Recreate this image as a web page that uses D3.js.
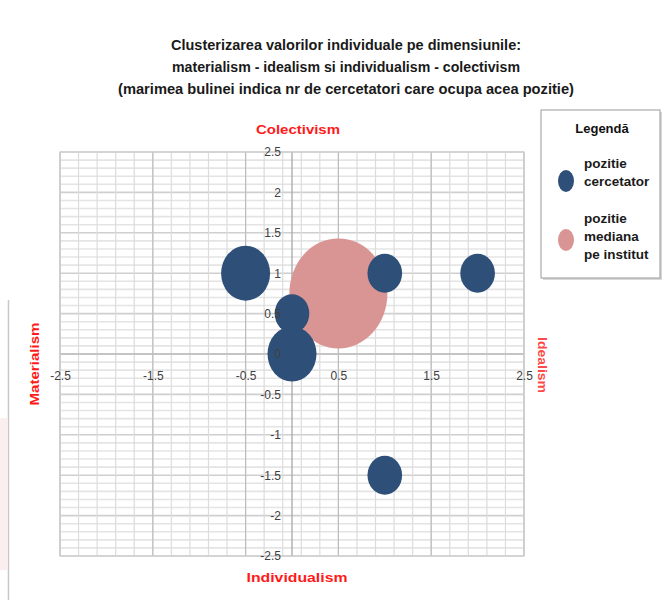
<!DOCTYPE html>
<html><head><meta charset="utf-8">
<script src="https://cdn.jsdelivr.net/npm/d3@7"></script>
<style>body{margin:0;background:#fff}svg{display:block}</style>
</head><body>
<svg id="c" width="670" height="600"></svg>
<script>
const titleLines = ["Clusterizarea valorilor individuale pe dimensiunile:",
  "materialism - idealism si individualism - colectivism",
  "(marimea bulinei indica nr de cercetatori care ocupa acea pozitie)"];
const xTicks = [-2.5, -1.5, -0.5, 0.5, 1.5, 2.5];
const yTicks = [2.5, 2, 1.5, 1, 0.5, 0, -0.5, -1, -1.5, -2, -2.5];
const researcherX = [-0.5, 1, 2, 1, 0, 0];
const researcherY = [1, 1, 1, -1.5, 0.5, 0];
const researcherN = [2, 1, 1, 1, 1, 2];
const medianX = [0.5];
const medianY = [0.75];
const medianN = [8];
const legendLabels = [["pozitie","cercetator"],["pozitie","mediana","pe institut"]];
const colors = {researcher:"#2e5078", median:"#d99594"};

const svg = d3.select("#c");
const x = d3.scaleLinear().domain([-2.5,2.5]).range([60,524]);
const y = d3.scaleLinear().domain([-2.5,2.5]).range([556,152]);
const rx = d3.scaleSqrt().domain([0,8]).range([0,49]);
const ry = d3.scaleSqrt().domain([0,8]).range([0,55]);

// page artifacts
svg.append("rect").attr("x",0).attr("y",418).attr("width",7).attr("height",152).attr("fill","#fbeeee");
svg.append("line").attr("x1",8.5).attr("x2",8.5).attr("y1",300).attr("y2",600).attr("stroke","#c8c8c8").attr("stroke-width",1.5);

// title
svg.append("g").selectAll("text").data(titleLines).join("text")
  .attr("x",346).attr("y",(d,i)=>50+i*22)
  .attr("text-anchor","middle")
  .attr("font-family","'Liberation Sans Narrow','Liberation Sans',Arial,sans-serif")
  .attr("font-weight","bold").attr("font-size",15.5).attr("fill","#1a1a1a")
  .attr("textLength",(d,i)=>[350,348,456][i]).attr("lengthAdjust","spacingAndGlyphs")
  .text(d=>d);

// grid
const g = svg.append("g");
const minorY = d3.range(-2.5,2.5001,0.1).map(v=>+v.toFixed(2));
const minorX = d3.range(-2.5,2.5001,0.2).map(v=>+v.toFixed(2));
g.selectAll(".hm").data(minorY).join("line")
  .attr("x1",x(-2.5)).attr("x2",x(2.5)).attr("y1",d=>y(d)).attr("y2",d=>y(d))
  .attr("stroke",d=>yTicks.some(t=>Math.abs(t-d)<1e-6)?"#cfcfcf":"#e4e4e4").attr("stroke-width",1.6);
g.selectAll(".vm").data(minorX).join("line")
  .attr("x1",d=>x(d)).attr("x2",d=>x(d)).attr("y1",y(2.5)).attr("y2",y(-2.5))
  .attr("stroke","#dcdcdc").attr("stroke-width",1.2);
g.selectAll(".vM").data(xTicks).join("line")
  .attr("x1",d=>x(d)).attr("x2",d=>x(d)).attr("y1",y(2.5)).attr("y2",y(-2.5))
  .attr("stroke","#bdbdbd").attr("stroke-width",1.2);
g.append("line").attr("x1",x(0)).attr("x2",x(0)).attr("y1",y(2.5)).attr("y2",y(-2.5))
  .attr("stroke","#a8a8a8").attr("stroke-width",1.3);
g.append("line").attr("x1",x(-2.5)).attr("x2",x(2.5)).attr("y1",y(0)).attr("y2",y(0))
  .attr("stroke","#bdbdbd").attr("stroke-width",1.3);
g.append("rect").attr("x",x(-2.5)).attr("y",y(2.5)).attr("width",x(2.5)-x(-2.5)).attr("height",y(-2.5)-y(2.5))
  .attr("fill","none").attr("stroke","#cfcfcf").attr("stroke-width",1.2);

// bubbles: larger first
const bubbles = medianX.map((v,i)=>({x:v,y:medianY[i],n:medianN[i],c:colors.median}))
  .concat(researcherX.map((v,i)=>({x:v,y:researcherY[i],n:researcherN[i],c:colors.researcher})));
svg.append("g").selectAll("ellipse").data(bubbles).join("ellipse")
  .attr("cx",d=>x(d.x)).attr("cy",d=>y(d.y))
  .attr("rx",d=>rx(d.n)).attr("ry",d=>ry(d.n)).attr("fill",d=>d.c);

// axes
const font = "'Liberation Sans',Arial,sans-serif";
const xa = svg.append("g").attr("transform",`translate(0,${y(0)})`)
  .call(d3.axisBottom(x).tickValues(xTicks).tickSize(0).tickPadding(17).tickFormat(d=>String(d)));
const ya = svg.append("g").attr("transform",`translate(${x(0)},0)`)
  .call(d3.axisLeft(y).tickValues(yTicks).tickSize(0).tickPadding(11).tickFormat(d=>String(d)));
[xa,ya].forEach(a=>{a.select(".domain").remove();
  a.selectAll("text").attr("font-family",font).attr("font-size",12).attr("fill","#404040");});

// axis titles
const red = "#ff1a1a";
const narrow = "'Liberation Sans Narrow','Liberation Sans',Arial,sans-serif";
function axTitle(tr, txt, len, col){
  svg.append("text").attr("transform",tr).attr("text-anchor","middle")
    .attr("font-family",narrow).attr("font-weight","bold").attr("font-size",13).attr("fill",col)
    .attr("textLength",len).attr("lengthAdjust","spacingAndGlyphs").text(txt);
}
axTitle("translate(298,134)","Colectivism",84,red);
axTitle("translate(297,582)","Individualism",101,red);
axTitle("translate(39,364) rotate(-90)","Materialism",83,red);
axTitle("translate(538,365) rotate(90)","Idealism",56,"#ff4a4a");

// legend
const lg = svg.append("g");
lg.append("rect").attr("x",543).attr("y",112).attr("width",119).attr("height",168).attr("fill","#d8d8d8");
lg.append("rect").attr("x",541).attr("y",110).attr("width",119).attr("height",168)
  .attr("fill","#fff").attr("stroke","#9a9a9a").attr("stroke-width",1);
lg.append("text").attr("x",602).attr("y",133).attr("text-anchor","middle")
  .attr("font-family",font).attr("font-weight","bold").attr("font-size",13).attr("fill","#111").text("Legendă");
const items = [{c:colors.researcher,cy:181,ty:168},{c:colors.median,cy:240,ty:223}];
items.forEach((it,i)=>{
  lg.append("ellipse").attr("cx",566).attr("cy",it.cy).attr("rx",8).attr("ry",11).attr("fill",it.c);
  lg.append("g").selectAll("text").data(legendLabels[i]).join("text")
    .attr("x",584).attr("y",(d,j)=>it.ty+j*18)
    .attr("font-family",font).attr("font-weight","bold").attr("font-size",13.5).attr("fill","#1a1a1a").text(d=>d);
});
</script>
</body></html>
